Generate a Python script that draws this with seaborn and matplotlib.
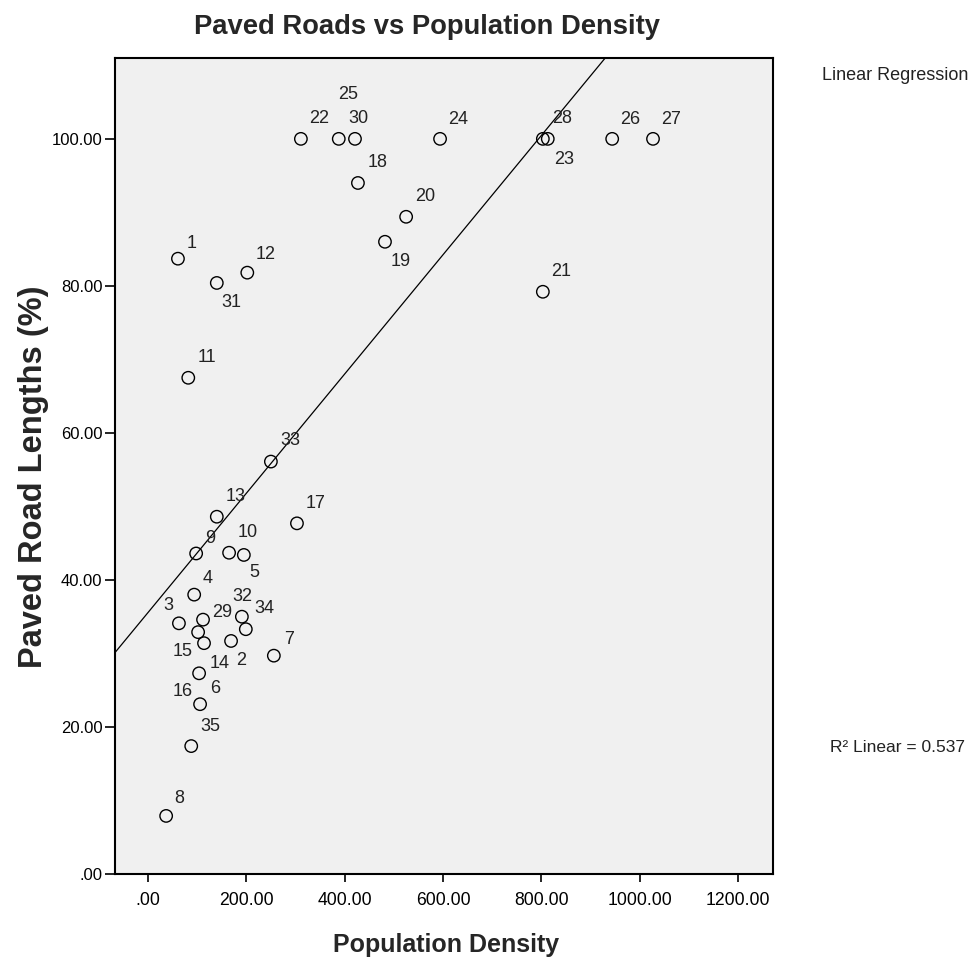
import matplotlib
matplotlib.use("Agg")
import matplotlib.pyplot as plt
import matplotlib.ticker as mticker
import numpy as np
import pandas as pd
import seaborn as sns

# ---------------------------------------------------------------------------
# Data
# ---------------------------------------------------------------------------
case_ids = [1, 2, 3, 4, 5, 6, 7, 8, 9, 10,
            11, 12, 13, 14, 15, 16, 17, 18, 19, 20,
            21, 22, 23, 24, 25, 26, 27, 28, 29, 30,
            31, 32, 33, 34, 35]
pop_density = [61, 169, 63, 94, 195, 106, 256, 37, 98, 165,
               82, 202, 140, 114, 102, 104, 303, 427, 482, 525,
               803, 311, 803, 594, 388, 944, 1027, 813, 112, 421,
               140, 191, 250, 199, 88]
paved_pct = [83.7, 31.7, 34.1, 38.0, 43.4, 23.1, 29.7, 7.9, 43.6, 43.7,
             67.5, 81.8, 48.6, 31.4, 32.9, 27.3, 47.7, 94.0, 86.0, 89.4,
             79.2, 100.0, 100.0, 100.0, 100.0, 100.0, 100.0, 100.0, 34.6, 100.0,
             80.4, 35.0, 56.1, 33.3, 17.4]

x_ticks = [0, 200, 400, 600, 800, 1000, 1200]
y_ticks = [0, 20, 40, 60, 80, 100]
r2_text = "R\u00b2 Linear = 0.537"

# label offsets (pixels, from circle centre) -- style only
label_offsets = {
    1: (14, 15), 2: (10, -20), 3: (-11, 18), 4: (13, 16), 5: (10, -18),
    6: (15, 16), 7: (15, 16), 8: (13, 17), 9: (14, 15), 10: (19, 20),
    11: (19, 20), 12: (18, 18), 13: (19, 20), 14: (16, -20), 15: (-15, -19),
    16: (-16, -18), 17: (19, 20), 18: (20, 20), 19: (16, -20), 20: (19, 20),
    21: (18, 20), 22: (18, 20), 23: (21, -21), 24: (18, 19), 25: (9, 44),
    26: (18, 19), 27: (18, 19), 28: (14, 20), 29: (19, 7), 30: (3, 20),
    31: (15, -20), 32: (0, 20), 33: (19, 21), 34: (19, 21), 35: (19, 20),
}

df = pd.DataFrame({"case": case_ids, "density": pop_density, "paved": paved_pct})

# ---------------------------------------------------------------------------
# Figure
# ---------------------------------------------------------------------------
sns.set_style("white")
plt.rcParams["font.family"] = ["Liberation Sans", "DejaVu Sans"]

fig = plt.figure(figsize=(9.76, 9.65), dpi=100)
ax = fig.add_axes([115 / 976, 1 - 874 / 965, 658 / 976, 816 / 965])
ax.set_facecolor("#f0f0f0")

ax.set_xlim(-67, 1271)
ax.set_ylim(0, 111)

sns.scatterplot(data=df, x="density", y="paved", ax=ax, marker="o", s=80,
                facecolor="none", edgecolor="black", linewidth=1.0,
                legend=False, zorder=3)
# fitted line drawn across the full x range, like the SPSS fit line
sns.regplot(data=df, x="density", y="paved", ax=ax, scatter=False, ci=None,
            truncate=False, line_kws={"color": "black", "linewidth": 0.9})
ax.set_xlim(-67, 1271)
ax.set_ylim(0, 111)

for cid, xv, yv in zip(case_ids, pop_density, paved_pct):
    dx, dy = label_offsets[cid]
    ax.annotate(str(cid), (xv, yv), xytext=(dx, dy), textcoords="offset pixels",
                ha="center", va="center", fontsize=13, color="#222222")

fmt = mticker.FuncFormatter(lambda v, p: ".00" if v == 0 else f"{v:.2f}")
ax.set_xticks(x_ticks)
ax.set_yticks(y_ticks)
ax.xaxis.set_major_formatter(fmt)
ax.yaxis.set_major_formatter(fmt)
ax.tick_params(axis="x", direction="out", length=6, width=1.2, labelsize=12.7,
               pad=7, colors="black", bottom=True, top=False)
ax.tick_params(axis="y", direction="out", length=7, width=1.2, labelsize=12,
               pad=2, colors="black", left=True, right=False)
for sp in ax.spines.values():
    sp.set_visible(True)
    sp.set_color("black")
    sp.set_linewidth(1.5)

ax.set_xlabel("Population Density", fontsize=18, fontweight="bold", va="center")
ax.xaxis.set_label_coords(0.503, -0.087)
ax.set_ylabel("Paved Road Lengths (%)", fontsize=23.5, fontweight="bold",
              va="center")
ax.yaxis.set_label_coords(-0.1245, 0.487)

fig.text(427 / 976, 1 - 27 / 965, "Paved Roads vs Population Density",
         ha="center", va="center", fontsize=19.7, fontweight="bold")
fig.text(822 / 976, 1 - 75 / 965, "Linear Regression", ha="left", va="center",
         fontsize=13, color="#222222")
fig.text(830 / 976, 1 - 747 / 965, r2_text, ha="left", va="center",
         fontsize=12.5, color="#222222")

fig.savefig("out.png", dpi=100, facecolor="white")
